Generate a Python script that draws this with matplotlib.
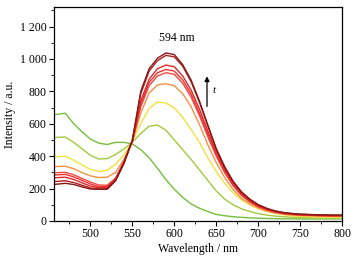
import matplotlib
matplotlib.use('Agg')
import matplotlib.pyplot as plt
import numpy as np
from matplotlib.ticker import MultipleLocator, FuncFormatter

# 波长 (nm)
wavelength = [456, 470, 480, 490, 500, 510, 520, 530, 540, 550, 560, 570, 580, 590, 600,
              610, 620, 630, 640, 650, 660, 670, 680, 690, 700, 710, 720, 730, 740, 750,
              760, 770, 780, 790, 800]

# 各时间点的荧光强度
green = [655, 665, 600, 550, 505, 480, 472, 485, 485, 475, 440, 390, 325, 255, 195,
         145, 105, 78, 58, 40, 32, 26, 22, 19, 17, 15, 14, 13, 13, 12, 12, 12, 12, 12, 12]
yellowgreen = [515, 518, 485, 445, 405, 382, 385, 410, 445, 485, 540, 585, 592, 560, 500,
               440, 380, 315, 250, 185, 135, 100, 75, 58, 45, 36, 30, 26, 23, 21, 20, 19, 18, 18, 18]
yellow = [395, 400, 375, 345, 318, 305, 312, 350, 410, 490, 600, 695, 733, 728, 698,
          640, 565, 485, 390, 305, 232, 175, 130, 100, 75, 58, 47, 38, 32, 28, 26, 24, 23, 22, 22]
orange = [335, 338, 322, 298, 278, 268, 270, 300, 380, 490, 665, 790, 840, 847, 835,
          785, 705, 595, 470, 360, 268, 195, 140, 105, 80, 62, 50, 42, 37, 34, 32, 30, 29, 28, 28]
red1 = [297, 300, 285, 262, 240, 222, 220, 265, 370, 490, 705, 835, 895, 915, 905,
        850, 765, 650, 520, 400, 298, 218, 158, 117, 88, 68, 54, 45, 40, 37, 35, 33, 32, 31, 31]
red2 = [283, 287, 272, 250, 228, 212, 212, 260, 365, 492, 720, 855, 915, 935, 925,
        870, 785, 665, 535, 412, 308, 225, 163, 120, 90, 70, 56, 47, 42, 38, 36, 34, 33, 32, 32]
red3 = [266, 270, 256, 235, 215, 205, 205, 255, 360, 495, 740, 875, 940, 962, 952,
        895, 808, 690, 555, 428, 320, 233, 170, 125, 94, 73, 58, 49, 43, 39, 37, 35, 34, 33, 33]
red4 = [242, 248, 237, 220, 203, 198, 198, 250, 358, 498, 785, 925, 990, 1022, 1013,
        955, 860, 732, 585, 445, 335, 245, 178, 132, 99, 77, 61, 51, 45, 41, 39, 37, 36, 35, 35]
maroon = [225, 232, 225, 210, 197, 195, 196, 248, 355, 500, 800, 940, 1005, 1037, 1027,
          965, 870, 740, 592, 445, 332, 245, 180, 135, 101, 78, 62, 52, 46, 42, 40, 38, 37, 36, 36]

series = [green, yellowgreen, yellow, orange, red1, red2, red3, red4, maroon]
colors = ['#74bf3e', '#a4c93c', '#efe33f', '#f59143', '#f2483e', '#ec3434', '#dc2828',
          '#b01e1e', '#861818']

plt.rcParams['font.family'] = ['Liberation Serif', 'DejaVu Serif']
plt.rcParams['font.size'] = 8.5

fig = plt.figure(figsize=(3.57, 2.63), dpi=100)
ax = fig.add_axes([0.150, 0.160, 0.808, 0.813])

for y, c in zip(series, colors):
    ax.plot(wavelength, y, color=c, linewidth=1.0)

ax.set_xlim(456, 800)
ax.set_ylim(0, 1320)

ax.xaxis.set_major_locator(MultipleLocator(50))
ax.xaxis.set_minor_locator(MultipleLocator(25))
ax.yaxis.set_major_locator(MultipleLocator(200))
ax.yaxis.set_minor_locator(MultipleLocator(100))


def thousands(v, pos):
    v = int(round(v))
    if v >= 1000:
        return f'{v // 1000} {v % 1000:03d}'
    return str(v)


ax.yaxis.set_major_formatter(FuncFormatter(thousands))
ax.tick_params(which='major', direction='out', length=3.5, width=0.8, pad=1.5)
ax.tick_params(which='minor', direction='out', length=2, width=0.6)
for s in ax.spines.values():
    s.set_linewidth(0.9)

ax.set_xlabel('Wavelength / nm', labelpad=2)
ax.set_ylabel('Intensity / a.u.', labelpad=3)

ax.text(603, 1130, '594 nm', ha='center', va='center')
ax.annotate('', xy=(639, 910), xytext=(639, 690),
            arrowprops=dict(arrowstyle='-|>', color='black', lw=0.9, mutation_scale=7))
ax.text(648, 805, 't', style='italic', ha='center', va='center', fontsize=8)

plt.savefig('out.png', dpi=100)
plt.close()
